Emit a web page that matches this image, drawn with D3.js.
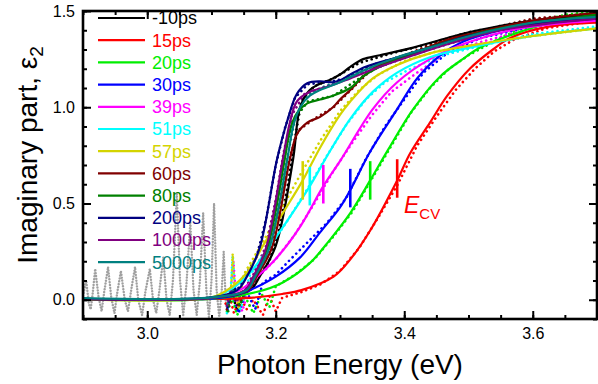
<!DOCTYPE html>
<html>
<head>
<meta charset="utf-8">
<script src="https://cdn.jsdelivr.net/npm/d3@7"></script>
<style>
  body { margin: 0; background: #fff; }
  text { font-family: "Liberation Sans", Arial, sans-serif; }
</style>
</head>
<body>
<div id="chart"></div>
<script>
// legend labels and series colours, in legend order
var labels = ["-10ps", "15ps", "20ps", "30ps", "39ps", "51ps", "57ps", "60ps", "80ps", "200ps", "1000ps", "5000ps"];
var colors = ["#000000", "#ff0000", "#00ee00", "#0000ff", "#ff00ff", "#00ffff", "#d4d400", "#800000", "#008000", "#000080", "#800080", "#008080"];

var xTicks = [3.0, 3.2, 3.4, 3.6];
var yTicks = [0.0, 0.5, 1.0, 1.5];

// fitted curves, [photon energy eV, eps2]
var fitM10 = [[2.9,0.003],[3.1,0.01],[3.16,0.05],[3.175,0.12],[3.2,0.28],[3.227,0.73],[3.238,1.0],[3.253,1.09],[3.289,1.15],[3.3,1.17],[3.316,1.21],[3.336,1.25],[3.362,1.27],[3.414,1.31],[3.467,1.36],[3.502,1.39],[3.6,1.45],[3.7,1.48]];
var fit15 = [[2.9,0.003],[3.1,0.004],[3.16,0.01],[3.21,0.03],[3.24,0.05],[3.29,0.12],[3.316,0.21],[3.347,0.36],[3.389,0.62],[3.409,0.76],[3.44,0.92],[3.467,1.06],[3.502,1.2],[3.538,1.3],[3.565,1.36],[3.627,1.42],[3.7,1.44]];
var fit20 = [[2.9,0.003],[3.1,0.005],[3.17,0.04],[3.211,0.09],[3.253,0.19],[3.284,0.31],[3.316,0.45],[3.347,0.62],[3.375,0.78],[3.414,0.99],[3.456,1.16],[3.491,1.25],[3.518,1.31],[3.57,1.38],[3.63,1.44],[3.7,1.48]];
var fit30 = [[2.9,0.003],[3.1,0.006],[3.14,0.025],[3.16,0.05],[3.2,0.12],[3.238,0.22],[3.269,0.35],[3.3,0.48],[3.316,0.57],[3.347,0.77],[3.389,0.99],[3.42,1.15],[3.456,1.27],[3.491,1.34],[3.55,1.40],[3.62,1.44],[3.7,1.46]];
var fit39 = [[2.9,0.003],[3.1,0.01],[3.144,0.05],[3.171,0.12],[3.202,0.22],[3.238,0.38],[3.274,0.59],[3.3,0.72],[3.351,0.99],[3.389,1.13],[3.44,1.25],[3.502,1.34],[3.58,1.41],[3.7,1.45]];
var fit51 = [[2.9,0.003],[3.1,0.012],[3.137,0.07],[3.16,0.14],[3.191,0.28],[3.222,0.43],[3.253,0.59],[3.284,0.77],[3.316,0.94],[3.351,1.08],[3.389,1.18],[3.44,1.26],[3.502,1.31],[3.6,1.37],[3.7,1.41]];
var fit57 = [[2.9,0.003],[3.1,0.012],[3.133,0.07],[3.155,0.14],[3.18,0.28],[3.211,0.45],[3.242,0.62],[3.269,0.79],[3.3,0.96],[3.316,1.03],[3.351,1.15],[3.389,1.22],[3.44,1.28],[3.502,1.32],[3.6,1.37],[3.7,1.41]];
var fit60 = [[2.9,0.003],[3.1,0.01],[3.157,0.05],[3.17,0.12],[3.194,0.27],[3.222,0.73],[3.233,0.86],[3.249,0.92],[3.269,0.95],[3.289,1.0],[3.3,1.04],[3.316,1.09],[3.336,1.16],[3.362,1.22],[3.414,1.28],[3.467,1.35],[3.502,1.38],[3.6,1.45],[3.7,1.49]];
var fit80 = [[2.9,0.005],[3.1,0.01],[3.153,0.05],[3.166,0.12],[3.187,0.27],[3.214,0.73],[3.222,0.88],[3.233,0.97],[3.249,1.02],[3.269,1.04],[3.289,1.06],[3.316,1.10],[3.336,1.16],[3.362,1.21],[3.414,1.28],[3.467,1.34],[3.55,1.41],[3.7,1.48]];
var fit200 = [[2.9,0.005],[3.1,0.012],[3.14,0.05],[3.155,0.12],[3.175,0.27],[3.202,0.73],[3.218,0.93],[3.233,1.07],[3.249,1.125],[3.269,1.135],[3.289,1.13],[3.3,1.14],[3.316,1.17],[3.34,1.21],[3.39,1.26],[3.44,1.31],[3.5,1.37],[3.6,1.43],[3.7,1.46]];
var fit1000 = [[2.9,0.005],[3.1,0.01],[3.152,0.05],[3.165,0.12],[3.185,0.27],[3.211,0.73],[3.222,0.92],[3.233,1.03],[3.253,1.08],[3.284,1.11],[3.316,1.15],[3.362,1.21],[3.414,1.27],[3.47,1.33],[3.55,1.40],[3.7,1.46]];
var fit5000 = [[2.9,0.008],[3.1,0.012],[3.155,0.05],[3.168,0.12],[3.19,0.27],[3.218,0.73],[3.227,0.9],[3.238,1.0],[3.253,1.06],[3.269,1.09],[3.3,1.13],[3.336,1.19],[3.389,1.26],[3.44,1.31],[3.502,1.37],[3.6,1.44],[3.7,1.47]];

// measured spectra (dotted)
var datM10 = [[3.125,-0.03],[3.132,0.04],[3.14,-0.06],[3.15,0.03],[3.16,0.05],[3.175,0.13],[3.19,0.2],[3.205,0.36],[3.218,0.58],[3.23,0.84],[3.24,1.03],[3.26,1.11],[3.29,1.15],[3.33,1.23],[3.38,1.28],[3.44,1.33],[3.5,1.39],[3.6,1.45],[3.7,1.49]];
var dat15 = [[3.122,-0.02],[3.128,0.02],[3.135,-0.07],[3.145,0.01],[3.155,-0.05],[3.165,0.0],[3.18,-0.08],[3.19,0.02],[3.2,-0.06],[3.21,0.01],[3.24,0.04],[3.27,0.08],[3.3,0.15],[3.33,0.27],[3.36,0.43],[3.39,0.6],[3.42,0.8],[3.45,0.95],[3.48,1.09],[3.51,1.2],[3.54,1.29],[3.57,1.35],[3.62,1.41],[3.7,1.45]];
var dat20 = [[3.124,-0.06],[3.13,0.03],[3.14,-0.08],[3.152,0.02],[3.165,-0.07],[3.178,0.03],[3.19,-0.04],[3.2,0.07],[3.23,0.13],[3.26,0.21],[3.29,0.33],[3.32,0.46],[3.35,0.63],[3.38,0.8],[3.41,0.97],[3.44,1.1],[3.47,1.2],[3.5,1.27],[3.55,1.36],[3.6,1.44],[3.65,1.48],[3.7,1.5]];
var dat30 = [[3.125,-0.05],[3.132,0.05],[3.142,-0.07],[3.155,0.04],[3.168,-0.05],[3.18,0.09],[3.2,0.13],[3.22,0.2],[3.25,0.3],[3.28,0.4],[3.31,0.53],[3.34,0.73],[3.37,0.9],[3.4,1.04],[3.43,1.18],[3.47,1.29],[3.52,1.36],[3.6,1.42],[3.7,1.46]];
var dat39 = [[3.125,-0.04],[3.13,0.05],[3.134,0.2],[3.138,0.02],[3.148,-0.06],[3.158,0.06],[3.17,0.11],[3.2,0.21],[3.23,0.34],[3.26,0.5],[3.29,0.67],[3.32,0.82],[3.35,0.96],[3.38,1.08],[3.42,1.18],[3.46,1.27],[3.52,1.34],[3.6,1.41],[3.7,1.45]];
var dat51 = [[3.124,-0.07],[3.13,0.06],[3.133,0.23],[3.137,0.03],[3.145,-0.05],[3.16,0.13],[3.19,0.27],[3.22,0.42],[3.25,0.58],[3.28,0.75],[3.31,0.91],[3.34,1.04],[3.37,1.13],[3.41,1.2],[3.46,1.27],[3.52,1.32],[3.6,1.38],[3.7,1.42]];
var dat57 = [[3.126,-0.03],[3.131,0.08],[3.133,0.24],[3.136,0.05],[3.142,-0.04],[3.15,0.13],[3.18,0.3],[3.21,0.48],[3.24,0.66],[3.27,0.83],[3.3,0.98],[3.33,1.09],[3.36,1.17],[3.4,1.24],[3.45,1.29],[3.52,1.33],[3.6,1.37],[3.7,1.41]];
var dat60 = [[3.124,-0.05],[3.132,0.05],[3.142,-0.04],[3.155,0.06],[3.17,0.13],[3.19,0.24],[3.205,0.45],[3.22,0.72],[3.235,0.88],[3.26,0.94],[3.29,1.0],[3.32,1.1],[3.35,1.2],[3.4,1.27],[3.46,1.35],[3.52,1.4],[3.6,1.46],[3.7,1.49]];
var dat80 = [[3.126,-0.06],[3.134,0.06],[3.144,-0.03],[3.155,0.06],[3.168,0.14],[3.185,0.26],[3.2,0.5],[3.214,0.75],[3.225,0.92],[3.25,1.03],[3.29,1.06],[3.33,1.15],[3.37,1.23],[3.42,1.29],[3.48,1.36],[3.56,1.42],[3.7,1.49]];
var dat200 = [[3.125,-0.04],[3.132,0.07],[3.14,0.05],[3.155,0.14],[3.17,0.22],[3.185,0.42],[3.2,0.7],[3.215,0.9],[3.23,1.05],[3.25,1.12],[3.28,1.13],[3.31,1.15],[3.35,1.22],[3.4,1.27],[3.46,1.33],[3.54,1.4],[3.7,1.46]];
var dat1000 = [[3.124,-0.03],[3.13,0.06],[3.14,0.0],[3.152,0.06],[3.165,0.13],[3.185,0.28],[3.2,0.52],[3.212,0.76],[3.225,0.96],[3.245,1.07],[3.28,1.11],[3.32,1.16],[3.37,1.22],[3.42,1.28],[3.48,1.34],[3.56,1.41],[3.7,1.46]];
var dat5000 = [[3.125,-0.02],[3.132,0.05],[3.142,0.01],[3.155,0.06],[3.168,0.13],[3.19,0.27],[3.205,0.5],[3.218,0.74],[3.23,0.94],[3.245,1.05],[3.27,1.1],[3.31,1.15],[3.35,1.21],[3.4,1.27],[3.46,1.33],[3.52,1.39],[3.6,1.44],[3.7,1.48]];

// noisy low-energy data (grey)
var datNoise = [[2.9,0.02],[2.905,0.10],[2.909,-0.02],[2.912,-0.05],[2.915,0.03],[2.919,0.16],[2.924,0.02],[2.929,-0.06],[2.933,0.04],[2.939,0.17],[2.944,0.01],[2.949,-0.07],[2.953,0.03],[2.959,0.15],[2.965,0.0],[2.97,-0.06],[2.975,0.05],[2.981,0.17],[2.986,0.0],[2.992,-0.08],[2.997,0.04],[3.004,0.16],[3.009,0.0],[3.014,-0.07],[3.019,0.05],[3.025,0.22],[3.03,0.0],[3.035,-0.08],[3.04,0.1],[3.046,0.55],[3.051,0.1],[3.056,-0.08],[3.061,0.08],[3.067,0.40],[3.072,0.05],[3.077,-0.08],[3.082,0.1],[3.087,0.45],[3.092,0.05],[3.096,-0.09],[3.1,0.1],[3.104,0.50],[3.108,0.05],[3.112,-0.09],[3.116,0.05],[3.119,0.25],[3.122,0.0],[3.124,-0.05]];

// E_CV markers: series index, energy, eps2
var ecvSeries = [6, 5, 4, 3, 2, 1];
var ecvE = [3.242, 3.253, 3.274, 3.316, 3.347, 3.389];
var ecvV = [0.62, 0.59, 0.60, 0.58, 0.62, 0.63];

var fits = [fitM10, fit15, fit20, fit30, fit39, fit51, fit57, fit60, fit80, fit200, fit1000, fit5000];
var dats = [datM10, dat15, dat20, dat30, dat39, dat51, dat57, dat60, dat80, dat200, dat1000, dat5000];

var W = 598, H = 384;
var plot = { left: 83, right: 597, top: 11, bottom: 319 };

var svg = d3.select("#chart").append("svg")
    .attr("width", W)
    .attr("height", H);

var x = d3.scaleLinear().domain([2.9, 3.7]).range([plot.left, plot.right]);
var y = d3.scaleLinear().domain([-0.1, 1.5]).range([plot.bottom, plot.top]);

svg.append("clipPath").attr("id", "clip")
  .append("rect")
    .attr("x", plot.left).attr("y", plot.top)
    .attr("width", plot.right - plot.left)
    .attr("height", plot.bottom - plot.top);

var line = d3.line()
    .x(function(d) { return x(d[0]); })
    .y(function(d) { return y(d[1]); })
    .curve(d3.curveCatmullRom.alpha(0.5));

var zig = d3.line()
    .x(function(d) { return x(d[0]); })
    .y(function(d) { return y(d[1]); });

var plotArea = svg.append("g").attr("clip-path", "url(#clip)");

// grey noise
plotArea.append("path")
    .attr("d", zig(datNoise))
    .attr("fill", "none")
    .attr("stroke", "#a0a0a0")
    .attr("stroke-width", 2.4)
    .attr("stroke-linecap", "round")
    .attr("stroke-dasharray", "0.1,2.8");

// legend
var legend = svg.append("g");
labels.forEach(function(lab, i) {
  var ly = 18 + i * 22.2;
  legend.append("line")
      .attr("x1", 98).attr("x2", 145)
      .attr("y1", ly).attr("y2", ly)
      .attr("stroke", colors[i])
      .attr("stroke-width", 2.2);
  legend.append("text")
      .attr("x", 152).attr("y", ly)
      .attr("dy", "0.36em")
      .attr("font-size", 18)
      .attr("fill", colors[i])
      .text(lab);
});

// data dots then fit lines
dats.forEach(function(d, i) {
  plotArea.append("path")
      .attr("d", zig(d))
      .attr("fill", "none")
      .attr("stroke", colors[i])
      .attr("stroke-width", 2.6)
      .attr("stroke-linecap", "round")
      .attr("stroke-dasharray", "0.1,5");
});
fits.forEach(function(d, i) {
  plotArea.append("path")
      .attr("d", line(d))
      .attr("fill", "none")
      .attr("stroke", colors[i])
      .attr("stroke-width", 2.2);
});

// E_CV markers
ecvSeries.forEach(function(s, i) {
  svg.append("line")
      .attr("x1", x(ecvE[i])).attr("x2", x(ecvE[i]))
      .attr("y1", y(ecvV[i] + 0.1)).attr("y2", y(ecvV[i] - 0.1))
      .attr("stroke", colors[s])
      .attr("stroke-width", 2.6);
});
var ecvLabel = svg.append("text")
    .attr("x", 404).attr("y", 213)
    .attr("fill", "#ff0000")
    .attr("font-size", 23);
ecvLabel.append("tspan").attr("font-style", "italic").text("E");
ecvLabel.append("tspan").attr("font-size", 15).attr("dy", 6).text("CV");

// axes: inward ticks on all four sides
function minorTicks(lo, hi, step) {
  return d3.range(Math.round((hi - lo) / step) + 1).map(function(k) { return +(lo + k * step).toFixed(3); });
}
var xMinor = minorTicks(2.9, 3.7, 0.05);
var yMinor = minorTicks(-0.1, 1.5, 0.1);

function styleAxis(g) {
  g.select(".domain").remove();
  g.selectAll(".tick line").attr("stroke", "#000").attr("stroke-width", 2);
  g.selectAll(".tick text").attr("font-size", 16).attr("fill", "#000")
      .attr("font-family", "Liberation Sans, Arial, sans-serif");
}

svg.append("g").attr("transform", "translate(0," + plot.bottom + ")")
    .call(d3.axisBottom(x).tickValues(xMinor).tickFormat("").tickSize(-4)).call(styleAxis);
svg.append("g").attr("transform", "translate(0," + plot.bottom + ")")
    .call(d3.axisBottom(x).tickValues(xTicks).tickFormat(d3.format(".1f")).tickSize(-8).tickPadding(9)).call(styleAxis);
svg.append("g").attr("transform", "translate(0," + plot.top + ")")
    .call(d3.axisTop(x).tickValues(xMinor).tickFormat("").tickSize(-4)).call(styleAxis);
svg.append("g").attr("transform", "translate(0," + plot.top + ")")
    .call(d3.axisTop(x).tickValues(xTicks).tickFormat("").tickSize(-8)).call(styleAxis);

svg.append("g").attr("transform", "translate(" + plot.left + ",0)")
    .call(d3.axisLeft(y).tickValues(yMinor).tickFormat("").tickSize(-4)).call(styleAxis);
svg.append("g").attr("transform", "translate(" + plot.left + ",0)")
    .call(d3.axisLeft(y).tickValues(yTicks).tickFormat(d3.format(".1f")).tickSize(-8).tickPadding(8)).call(styleAxis);
svg.append("g").attr("transform", "translate(" + plot.right + ",0)")
    .call(d3.axisRight(y).tickValues(yMinor).tickFormat("").tickSize(-4)).call(styleAxis);
svg.append("g").attr("transform", "translate(" + plot.right + ",0)")
    .call(d3.axisRight(y).tickValues(yTicks).tickFormat("").tickSize(-8)).call(styleAxis);

svg.append("rect")
    .attr("x", plot.left).attr("y", plot.top)
    .attr("width", plot.right - plot.left)
    .attr("height", plot.bottom - plot.top)
    .attr("fill", "none")
    .attr("stroke", "#000")
    .attr("stroke-width", 2.6);

// axis titles
svg.append("text")
    .attr("x", (plot.left + plot.right) / 2).attr("y", 374)
    .attr("text-anchor", "middle")
    .attr("font-size", 28)
    .text("Photon Energy (eV)");

var yTitle = svg.append("text")
    .attr("transform", "translate(37,155) rotate(-90)")
    .attr("text-anchor", "middle")
    .attr("font-size", 28);
yTitle.append("tspan").text("Imaginary part, \u03b5");
yTitle.append("tspan").attr("font-size", 19).attr("dy", 6).text("2");
</script>
</body>
</html>
